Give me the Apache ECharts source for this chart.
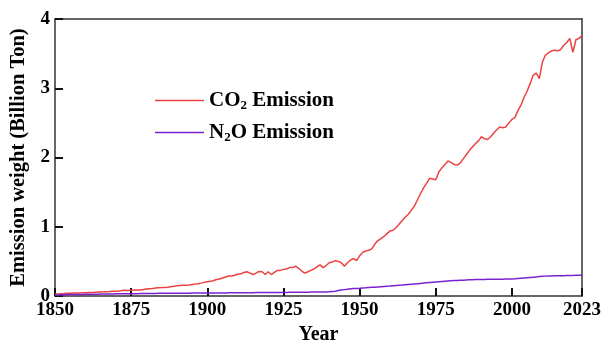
<!DOCTYPE html>
<html>
<head>
<meta charset="utf-8">
<script src="https://cdn.jsdelivr.net/npm/echarts@6/dist/echarts.min.js"></script>
<style>html,body{margin:0;padding:0;background:#fff}#c{width:601px;height:344px}</style>
</head>
<body>
<div id="c"></div>
<script>
var startYear = 1850;
var endYear = 2023;
var xTicks = [1850, 1875, 1900, 1925, 1950, 1975, 2000, 2023];
var yTicks = [0, 1, 2, 3, 4];
var seriesNames = ['CO₂ Emission', 'N₂O Emission'];

var co2 = [
  0.030,0.030,0.033,0.035,0.038,0.040,0.042,0.043,0.044,0.046,
  0.048,0.050,0.051,0.053,0.056,0.059,0.060,0.063,0.065,0.068,
  0.070,0.073,0.078,0.082,0.080,0.083,0.085,0.086,0.088,0.093,
  0.100,0.105,0.110,0.116,0.120,0.121,0.123,0.128,0.135,0.140,
  0.148,0.153,0.155,0.155,0.160,0.167,0.172,0.178,0.186,0.197,
  0.205,0.212,0.220,0.238,0.245,0.260,0.275,0.290,0.290,0.300,
  0.315,0.320,0.340,0.350,0.330,0.310,0.330,0.355,0.350,0.310,
  0.350,0.310,0.340,0.370,0.370,0.385,0.390,0.410,0.410,0.430,
  0.400,0.360,0.330,0.350,0.370,0.390,0.420,0.450,0.410,0.440,
  0.480,0.490,0.510,0.500,0.480,0.430,0.480,0.520,0.540,0.510,
  0.580,0.630,0.650,0.660,0.680,0.750,0.800,0.830,0.860,0.900,
  0.940,0.950,0.990,1.040,1.090,1.140,1.180,1.240,1.300,1.390,
  1.480,1.560,1.630,1.700,1.690,1.680,1.790,1.850,1.900,1.950,
  1.930,1.900,1.890,1.920,1.980,2.040,2.100,2.150,2.200,2.240,
  2.300,2.270,2.260,2.300,2.350,2.400,2.440,2.430,2.440,2.500,
  2.550,2.580,2.680,2.760,2.870,2.960,3.070,3.190,3.220,3.140,
  3.380,3.480,3.510,3.540,3.550,3.540,3.560,3.620,3.660,3.720,
  3.520,3.700,3.720,3.760
];

var n2o = [
  0.015,0.016,0.017,0.018,0.019,0.020,0.021,0.022,0.022,0.023,
  0.024,0.025,0.026,0.026,0.027,0.028,0.028,0.029,0.030,0.030,
  0.031,0.031,0.032,0.032,0.033,0.033,0.034,0.034,0.035,0.035,
  0.036,0.036,0.037,0.037,0.038,0.038,0.038,0.039,0.039,0.040,
  0.040,0.040,0.041,0.041,0.041,0.042,0.042,0.042,0.043,0.043,
  0.043,0.044,0.044,0.044,0.045,0.045,0.045,0.046,0.046,0.046,
  0.047,0.047,0.047,0.048,0.048,0.048,0.049,0.049,0.049,0.050,
  0.050,0.050,0.051,0.051,0.052,0.052,0.052,0.053,0.053,0.054,
  0.054,0.054,0.055,0.055,0.056,0.056,0.057,0.057,0.058,0.059,
  0.060,0.065,0.070,0.078,0.085,0.092,0.098,0.103,0.107,0.110,
  0.112,0.115,0.118,0.122,0.125,0.128,0.131,0.134,0.137,0.140,
  0.143,0.147,0.151,0.155,0.158,0.162,0.166,0.170,0.174,0.178,
  0.182,0.186,0.190,0.194,0.198,0.202,0.206,0.210,0.214,0.218,
  0.221,0.223,0.225,0.227,0.229,0.231,0.233,0.235,0.237,0.239,
  0.240,0.240,0.241,0.241,0.242,0.242,0.243,0.243,0.244,0.244,
  0.245,0.248,0.252,0.256,0.260,0.264,0.268,0.272,0.276,0.280,
  0.284,0.287,0.289,0.290,0.291,0.292,0.293,0.294,0.295,0.296,
  0.297,0.298,0.299,0.300
];

function pairs(arr) {
  return arr.map(function (v, i) { return [startYear + i, v]; });
}

var FONT = '"Liberation Serif", "Times New Roman", serif';
var AX = '#333';
var TK = '#111';
var rich = {
  a: { fontFamily: FONT, fontWeight: 'bold', fontSize: 21, color: '#000', lineHeight: 24 },
  s: { fontFamily: FONT, fontWeight: 'bold', fontSize: 13, color: '#000', lineHeight: 13, verticalAlign: 'bottom' }
};
function legendFmt(name) {
  var m = name.match(/^(.*?)₂(.*)$/);
  if (!m) return '{a|' + name + '}';
  return '{a|' + m[1] + '}{s|2}{a|' + m[2] + '}';
}
function legendCfg(name, top) {
  return { data: [name], left: 155, top: top, padding: 0, orient: 'vertical',
    icon: 'rect', itemWidth: 49, itemHeight: 1.5,
    formatter: legendFmt, textStyle: { rich: rich } };
}
function frameAxis(pos, isX) {
  var a = {
    type: 'value', position: pos,
    axisLine: { show: true, onZero: false, lineStyle: { color: AX, width: 1.5 } },
    axisTick: { show: false }, axisLabel: { show: false }, splitLine: { show: false }
  };
  if (isX) { a.min = startYear; a.max = endYear; } else { a.min = yTicks[0]; a.max = yTicks[yTicks.length - 1]; }
  return a;
}

var chart = echarts.init(document.getElementById('c'));
chart.setOption({
  animation: false,
  backgroundColor: '#fff',
  grid: { left: 55, right: 19, top: 19, bottom: 48, outerBoundsMode: 'none' },
  legend: [ legendCfg(seriesNames[0], 90), legendCfg(seriesNames[1], 122) ],
  xAxis: [{
    type: 'value', min: startYear, max: endYear, interval: 25,
    name: 'Year', nameLocation: 'middle', nameGap: 26,
    nameTextStyle: { fontFamily: FONT, fontWeight: 'bold', fontSize: 20, color: '#000' },
    axisLine: { show: true, onZero: false, lineStyle: { color: AX, width: 1.5 } },
    axisTick: { show: true, inside: true, length: 8, lineStyle: { color: TK, width: 2 } },
    axisLabel: { show: true, margin: 5, fontFamily: FONT, fontWeight: 'bold', fontSize: 19, color: '#000',
      showMaxLabel: true, showMinLabel: true,
      formatter: function (v) { return xTicks.indexOf(Math.round(v)) >= 0 ? String(Math.round(v)) : ''; } },
    splitLine: { show: false }
  }, frameAxis('top', true)],
  yAxis: [{
    type: 'value', min: yTicks[0], max: yTicks[yTicks.length - 1], interval: 1,
    name: 'Emission weight (Billion Ton)', nameLocation: 'middle', nameGap: 25,
    nameTextStyle: { fontFamily: FONT, fontWeight: 'bold', fontSize: 20.5, color: '#000' },
    axisLine: { show: true, onZero: false, lineStyle: { color: AX, width: 1.5 } },
    axisTick: { show: true, inside: true, length: 8, lineStyle: { color: TK, width: 2 } },
    axisLabel: { show: true, margin: 5, fontFamily: FONT, fontWeight: 'bold', fontSize: 19, color: '#000' },
    splitLine: { show: false }
  }, frameAxis('right', false)],
  series: [
    { name: seriesNames[0], type: 'line', data: pairs(co2), symbol: 'none',
      lineStyle: { color: '#ec4242', width: 1.5 }, itemStyle: { color: '#ec4242' } },
    { name: seriesNames[1], type: 'line', data: pairs(n2o), symbol: 'none',
      lineStyle: { color: '#7a22d0', width: 1.5 }, itemStyle: { color: '#7a22d0' } }
  ]
});
</script>
</body>
</html>
